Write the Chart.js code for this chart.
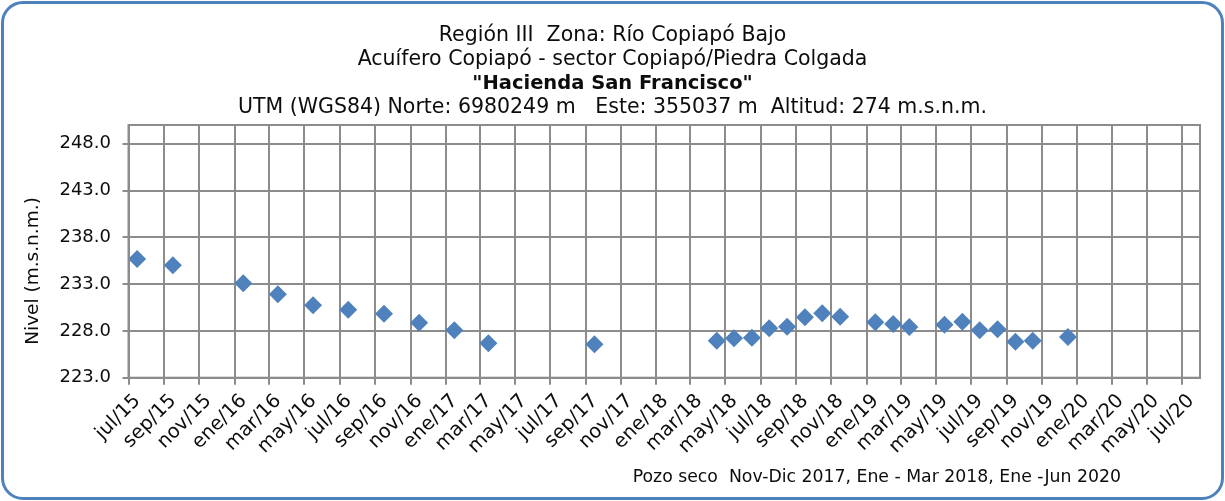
<!DOCTYPE html>
<html>
<head>
<meta charset="utf-8">
<script src="https://cdn.jsdelivr.net/npm/chart.js@4/dist/chart.umd.min.js"></script>
<style>
  html, body { margin: 0; padding: 0; background: #ffffff; }
  #wrap { position: relative; width: 1225px; height: 501px; overflow: hidden; }
  #frame { position: absolute; left: 1px; top: 1px; width: 1223px; height: 499px; box-sizing: border-box;
           border: 3.5px solid #4f81bd; border-radius: 22px; pointer-events: none; }
  canvas { position: absolute; left: 0; top: 0; }
</style>
</head>
<body>
<div id="wrap">
  <canvas id="chart" width="1225" height="501"></canvas>
  <div id="frame"></div>
</div>
<script>
// Heading lines (the third one is bold)
const TITLE_LINES = [
  'Región III  Zona: Río Copiapó Bajo',
  'Acuífero Copiapó - sector Copiapó/Piedra Colgada',
  '"Hacienda San Francisco"',
  'UTM (WGS84) Norte: 6980249 m   Este: 355037 m  Altitud: 274 m.s.n.m.'
];
const BOLD_LINE = 2;
const Y_TITLE = 'Nivel (m.s.n.m.)';
const FOOTNOTE = 'Pozo seco  Nov-Dic 2017, Ene - Mar 2018, Ene -Jun 2020';

// Measurement dates and static level (m.s.n.m.)
const SAMPLE_DATES = [
  '2015-07-16', '2015-09-16', '2016-01-16', '2016-03-16', '2016-05-16', '2016-07-16',
  '2016-09-16', '2016-11-16', '2017-01-16', '2017-03-16', '2017-09-16', '2018-04-16',
  '2018-05-16', '2018-06-16', '2018-07-16', '2018-08-16', '2018-09-16', '2018-10-16',
  '2018-11-16', '2019-01-16', '2019-02-16', '2019-03-16', '2019-05-16', '2019-06-16',
  '2019-07-16', '2019-08-16', '2019-09-16', '2019-10-16', '2019-12-16'
];
const NIVEL = [
  235.68, 235.01, 233.09, 231.91, 230.74, 230.26,
  229.84, 228.88, 228.06, 226.68, 226.57, 226.95,
  227.21, 227.27, 228.28, 228.45, 229.45, 229.88,
  229.52, 228.92, 228.74, 228.42, 228.66, 228.98,
  228.06, 228.17, 226.85, 226.95, 227.35
];

// Axis ticks
const X_TICK_LABELS = [
  'jul/15', 'sep/15', 'nov/15', 'ene/16', 'mar/16', 'may/16', 'jul/16', 'sep/16', 'nov/16',
  'ene/17', 'mar/17', 'may/17', 'jul/17', 'sep/17', 'nov/17', 'ene/18', 'mar/18', 'may/18',
  'jul/18', 'sep/18', 'nov/18', 'ene/19', 'mar/19', 'may/19', 'jul/19', 'sep/19', 'nov/19',
  'ene/20', 'mar/20', 'may/20', 'jul/20'
];
const X_START = '2015-07-01';
const X_END = '2020-08-01';
const Y_TICKS = [223, 228, 233, 238, 243, 248];
const Y_MIN = 223;
const Y_MAX = 250;

const MONTHS_ES = ['ene', 'feb', 'mar', 'abr', 'may', 'jun', 'jul', 'ago', 'sep', 'oct', 'nov', 'dic'];
const DAY_MS = 86400000;
const originMs = Date.parse(X_START + 'T00:00:00Z');
const dayOf = (iso) => (Date.parse(iso + 'T00:00:00Z') - originMs) / DAY_MS;
const labelToDay = (lbl) => {
  const [m, yy] = lbl.split('/');
  return (Date.UTC(2000 + Number(yy), MONTHS_ES.indexOf(m), 1) - originMs) / DAY_MS;
};

const points = SAMPLE_DATES.map((d, i) => ({ x: dayOf(d), y: NIVEL[i] }));

const GRID = '#8c8c8c';
const TEXT = '#0d0d0d';
const FONT = 'DejaVu Sans';

// Draws the heading, rotated axis title, footnote and the plot frame
const decorations = {
  id: 'decorations',
  afterDraw(chart) {
    const { ctx, chartArea: a } = chart;
    ctx.save();
    ctx.strokeStyle = GRID;
    ctx.lineWidth = 2;
    ctx.strokeRect(a.left, a.top, a.right - a.left, a.bottom - a.top);

    ctx.fillStyle = TEXT;
    ctx.textAlign = 'center';
    ctx.textBaseline = 'alphabetic';
    const baselines = [40.5, 64.5, 88.5, 112.5];
    TITLE_LINES.forEach((t, i) => {
      ctx.font = (i === BOLD_LINE ? 'bold 19.5px "' : '20.5px "') + FONT + '"';
      ctx.fillText(t, 612.5, baselines[i]);
    });

    ctx.font = '18.5px "' + FONT + '"';
    ctx.translate(33, 271);
    ctx.rotate(-Math.PI / 2);
    ctx.textBaseline = 'middle';
    ctx.fillText(Y_TITLE, 0, 0);
    ctx.setTransform(1, 0, 0, 1, 0, 0);

    ctx.font = '17.3px "' + FONT + '"';
    ctx.textAlign = 'left';
    ctx.textBaseline = 'alphabetic';
    ctx.fillText(FOOTNOTE, 632.7, 482.3);
    ctx.restore();
  }
};

new Chart(document.getElementById('chart'), {
  type: 'scatter',
  data: {
    datasets: [{
      data: points,
      pointStyle: 'rectRot',
      pointRadius: 9,
      pointHoverRadius: 9,
      backgroundColor: '#4f81bd',
      borderColor: '#4f81bd',
      borderWidth: 0,
      showLine: false
    }]
  },
  options: {
    responsive: false,
    animation: false,
    devicePixelRatio: 1,
    layout: { padding: { top: 125, right: 25, bottom: 0, left: 0 } },
    plugins: { legend: { display: false }, tooltip: { enabled: false }, title: { display: false } },
    scales: {
      x: {
        type: 'linear',
        min: 0,
        max: dayOf(X_END),
        afterBuildTicks: (s) => { s.ticks = X_TICK_LABELS.map(l => ({ value: labelToDay(l) })); },
        afterFit: (s) => { s.height = 501 - 377.7; },
        ticks: {
          autoSkip: false,
          maxRotation: 45,
          minRotation: 45,
          padding: 5,
          labelOffset: 9,
          color: TEXT,
          font: { family: FONT, size: 19.5 },
          callback: (v, i) => X_TICK_LABELS[i]
        },
        grid: { color: GRID, lineWidth: 2, tickLength: 7, drawTicks: true },
        border: { color: GRID, width: 2 }
      },
      y: {
        min: Y_MIN,
        max: Y_MAX,
        afterBuildTicks: (s) => { s.ticks = Y_TICKS.map(v => ({ value: v })); },
        afterFit: (s) => { s.width = 128.5; },
        ticks: {
          padding: 11.5,
          color: TEXT,
          font: { family: FONT, size: 18 },
          callback: (v) => Number(v).toFixed(1)
        },
        grid: { color: GRID, lineWidth: 2, tickLength: 6, drawTicks: true },
        border: { color: GRID, width: 2 }
      }
    }
  },
  plugins: [decorations]
});
</script>
</body>
</html>
